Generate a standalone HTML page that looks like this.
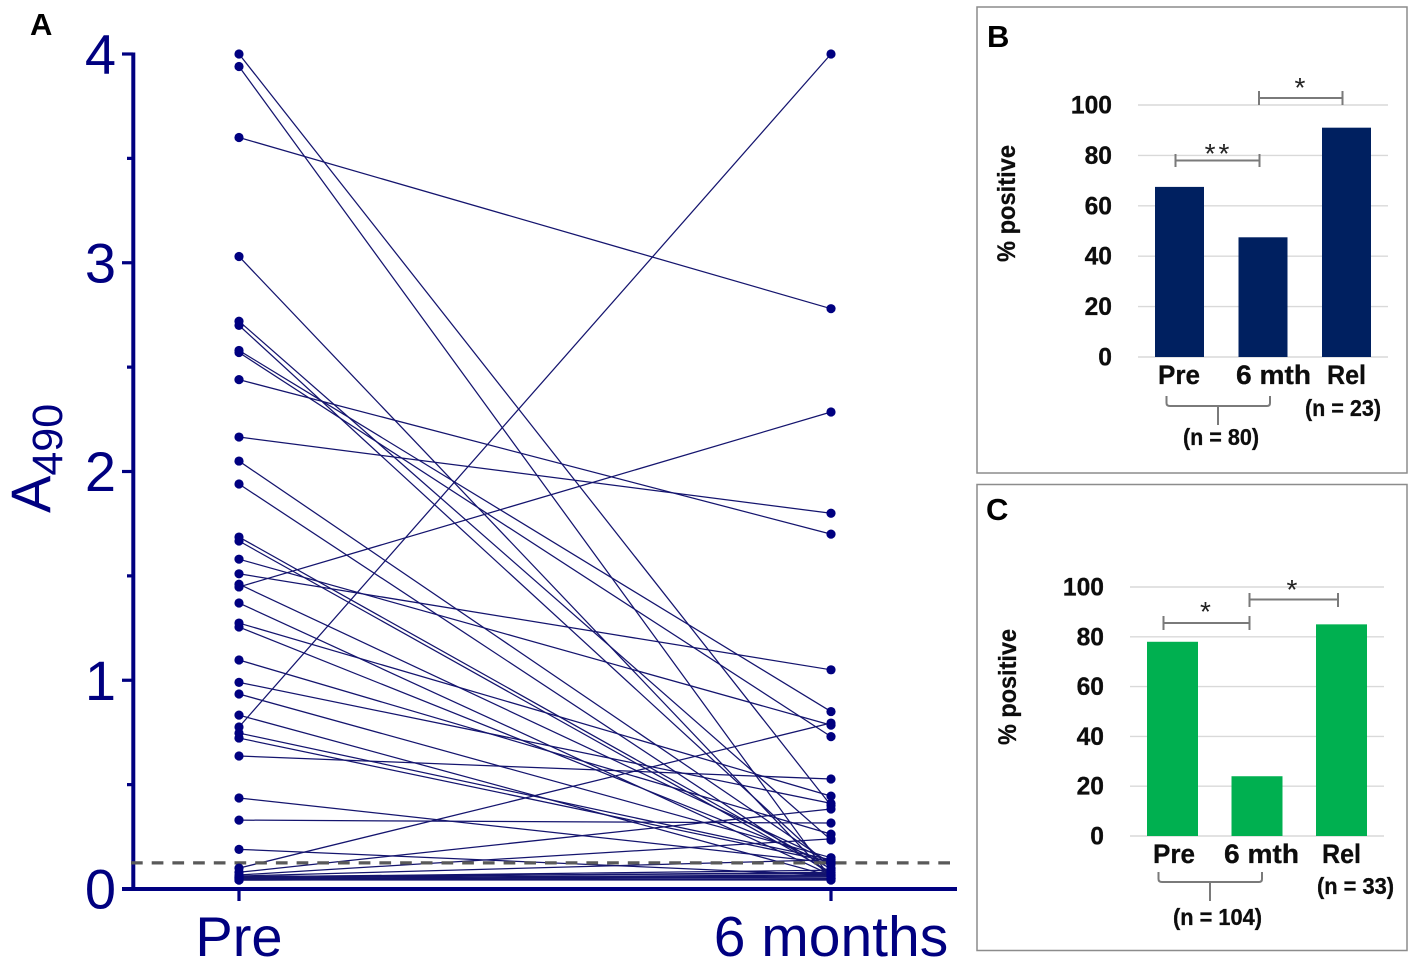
<!DOCTYPE html>
<html lang="en">
<head>
<meta charset="utf-8">
<title>A490 paired values and percent positive panels</title>
<style>
  html, body { margin: 0; padding: 0; background: #fff; }
  body { width: 1414px; height: 977px; overflow: hidden; }
  svg { display: block; font-family: "Liberation Sans", sans-serif; }
  .panel-letter { font-weight: 700; font-size: 31px; fill: #000; }
  .bold { font-weight: 700; fill: #0d0d0d; stroke: #0d0d0d; stroke-width: 0.3px; }
  .sig { stroke: #7a7a7a; stroke-width: 2; fill: none; }
  .star { font-size: 28px; fill: #222; text-anchor: middle; }
</style>
</head>
<body>
<svg id="figure" xmlns="http://www.w3.org/2000/svg" width="1414" height="977" viewBox="0 0 1414 977">
  <rect width="1414" height="977" fill="#fff"/>

  <text class="panel-letter" x="30" y="35">A</text>
  <g id="panelA"></g>
  <text transform="translate(50,513) rotate(-90)" font-size="56" fill="#000080">A<tspan font-size="43" dy="12">490</tspan></text>

  <rect x="977" y="7" width="430" height="466" fill="#fff" stroke="#8c8c8c" stroke-width="1.5"/>
  <text class="panel-letter" x="987" y="47">B</text>
  <g id="panelB"></g>
  <text class="bold" transform="translate(1015,262) rotate(-90)" font-size="25" textLength="117" lengthAdjust="spacingAndGlyphs">% positive</text>
  <path class="sig" d="M1175.5 154V167M1175.5 160.5H1259.5M1259.5 154V167"/>
  <path class="sig" d="M1259 91V105M1259 98H1342.5M1342.5 91V105"/>
  <text class="star" x="1218.5" y="163" letter-spacing="3">**</text>
  <text class="star" x="1300" y="97">*</text>
  <path class="sig" d="M1166.5 396V403Q1166.5 406 1170 406H1267Q1270 406 1270 403V396M1218 406V425"/>
  <text class="bold" x="1183" y="445" font-size="23" textLength="76" lengthAdjust="spacingAndGlyphs">(n = 80)</text>
  <text class="bold" x="1305" y="416" font-size="23" textLength="76" lengthAdjust="spacingAndGlyphs">(n = 23)</text>

  <rect x="977" y="484.5" width="430" height="466" fill="#fff" stroke="#8c8c8c" stroke-width="1.5"/>
  <text class="panel-letter" x="986" y="520">C</text>
  <g id="panelC"></g>
  <text class="bold" transform="translate(1016,745) rotate(-90)" font-size="25" textLength="116" lengthAdjust="spacingAndGlyphs">% positive</text>
  <path class="sig" d="M1163.5 616V630M1163.5 623H1249.5M1249.5 616V630"/>
  <path class="sig" d="M1249.5 593V607M1249.5 599.5H1338M1338 593V607"/>
  <text class="star" x="1205.5" y="621">*</text>
  <text class="star" x="1292" y="599">*</text>
  <path class="sig" d="M1158.5 872V879Q1158.5 882 1162 882H1259Q1262 882 1262 879V872M1210 882V901"/>
  <text class="bold" x="1173" y="925" font-size="23" textLength="89" lengthAdjust="spacingAndGlyphs">(n = 104)</text>
  <text class="bold" x="1317" y="894" font-size="23" textLength="77" lengthAdjust="spacingAndGlyphs">(n = 33)</text>
</svg>

<script>
/* Panel A data: paired A490 values */
const timepoints = ['Pre', '6 months'];
const preValues = [4.00,3.94,3.60,3.03,2.72,2.70,2.58,2.57,2.44,2.165,2.05,1.94,1.686,1.667,1.58,1.51,1.46,1.447,1.37,1.274,1.255,1.097,0.99,0.934,0.833,0.776,0.747,0.723,0.637,0.436,0.33,0.19,0.10,0.08,0.067,0.062,0.057,0.053,0.053,0.048,0.043,0.043,0.043,0.048,0.06,0.05];
const postValues = [0.40,0.05,2.78,0.05,0.235,0.10,0.85,0.73,1.70,1.80,0.12,0.07,0.096,0.08,0.785,1.05,0.13,2.285,0.067,0.445,0.12,0.263,0.41,0.15,0.062,4.00,0.14,0.13,0.527,0.125,0.316,0.067,0.795,0.383,0.24,0.14,0.09,0.08,0.067,0.062,0.05,0.043,0.048,0.057,0.075,0.043];
const cutoffValue = 0.125;
const yTickLabelsA = [0, 1, 2, 3, 4];
const yMinorTicksA = [0.5, 1.5, 2.5, 3.5];

/* Panel B data */
const categoriesB = ['Pre', '6 mth', 'Rel'];
const percentB = [67.5, 47.5, 91];
const yTicksB = [0, 20, 40, 60, 80, 100];

/* Panel C data */
const categoriesC = ['Pre', '6 mth', 'Rel'];
const percentC = [78, 24, 85];
const yTicksC = [0, 20, 40, 60, 80, 100];

const NS = 'http://www.w3.org/2000/svg';
function make(tag, attrs, parent, text) {
  const node = document.createElementNS(NS, tag);
  for (const k in attrs) node.setAttribute(k, attrs[k]);
  if (text !== undefined) node.textContent = text;
  parent.appendChild(node);
  return node;
}

/* ---------- Panel A ---------- */
(function () {
  const g = document.getElementById('panelA');
  const navy = '#000080';
  const y = v => 889 - v * 208.75;
  const x = i => 239 + i * 592;

  const yAxis = make('line', {x1: 133.3, x2: 133.3, y1: y(4) - 1.5, y2: y(0) + 2, stroke: navy, 'stroke-width': 4}, g);
  
  
  const xAxis = make('line', {x1: 122, x2: 957, y1: y(0), y2: y(0), stroke: navy, 'stroke-width': 4}, g);
  
  

  yTickLabelsA.forEach(v => {
    const t = make('line', {x1: 122, x2: 133, y1: y(v), y2: y(v), stroke: navy, 'stroke-width': 3.2}, g);
    
    
    const l = make('text', {x: 116, y: y(v) + 19.5, 'text-anchor': 'end', 'font-size': 56, fill: navy}, g, String(v));
    
    
  });
  yMinorTicksA.forEach(v => {
    const t = make('line', {x1: 127, x2: 133, y1: y(v), y2: y(v), stroke: navy, 'stroke-width': 3.2}, g);
    
    
  });
  timepoints.forEach((name, i) => {
    const t = make('line', {x1: x(i), x2: x(i), y1: y(0), y2: 901, stroke: navy, 'stroke-width': 3.2}, g);
    
    
    const l = make('text', {x: x(i), y: 956, 'text-anchor': 'middle', 'font-size': i ? 57 : 56, fill: navy}, g, name);
    
    
  });

  preValues.forEach((v, i) => {
    const ln = make('line', {x1: x(0), y1: y(v), x2: x(1), y2: y(postValues[i]), stroke: '#14146e', 'stroke-width': 1.25}, g);
    
    
  });

  const cut = make('line', {x1: 131, x2: 957, y1: y(cutoffValue), y2: y(cutoffValue), stroke: '#595959', 'stroke-width': 3.2, 'stroke-dasharray': '11.7 9'}, g);
  
  

  preValues.forEach((v, i) => {
    const a = make('circle', {cx: x(0), cy: y(v), r: 4.6, fill: navy}, g);
    
    
    const b = make('circle', {cx: x(1), cy: y(postValues[i]), r: 4.6, fill: navy}, g);
    
    
  });
})();

/* ---------- Panels B and C ---------- */
function drawBars(g, cfg) {
  const y = v => cfg.base - v * cfg.scale;
  cfg.ticks.forEach(v => {
    const gl = make('line', {x1: cfg.gridX1, x2: cfg.gridX2, y1: y(v), y2: y(v), stroke: '#d9d9d9', 'stroke-width': 1.4}, g);
    
    
    const digits = String(v).length;
    const l = make('text', {class: 'bold', x: cfg.labelRight, y: y(v) + 8.5, 'text-anchor': 'end', 'font-size': 25, textLength: digits * 13.7, lengthAdjust: 'spacingAndGlyphs'}, g, String(v));
    
    
  });
  cfg.values.forEach((v, i) => {
    const left = cfg.firstBar + i * cfg.step;
    const b = make('rect', {x: left, y: y(v), width: cfg.barWidth, height: v * cfg.scale, fill: cfg.color}, g);
    
    
    const box = cfg.labelBoxes[i];
    const l = make('text', {class: 'bold', x: box.x, y: cfg.labelBase, 'font-size': 27, textLength: box.w, lengthAdjust: 'spacingAndGlyphs'}, g, cfg.categories[i]);
    
    
  });
}

drawBars(document.getElementById('panelB'), {
  categories: categoriesB, values: percentB, ticks: yTicksB, color: '#002060',
  base: 357, scale: 2.52, gridX1: 1138, gridX2: 1388, labelRight: 1112,
  firstBar: 1155, step: 83.5, barWidth: 49, labelBase: 384,
  labelBoxes: [{x: 1158, w: 42}, {x: 1236, w: 75}, {x: 1327, w: 39}]
});
drawBars(document.getElementById('panelC'), {
  categories: categoriesC, values: percentC, ticks: yTicksC, color: '#00b050',
  base: 836, scale: 2.49, gridX1: 1130, gridX2: 1384, labelRight: 1104,
  firstBar: 1147, step: 84.5, barWidth: 51, labelBase: 863,
  labelBoxes: [{x: 1153, w: 42}, {x: 1224, w: 75}, {x: 1322, w: 39}]
});
</script>
</body>
</html>
